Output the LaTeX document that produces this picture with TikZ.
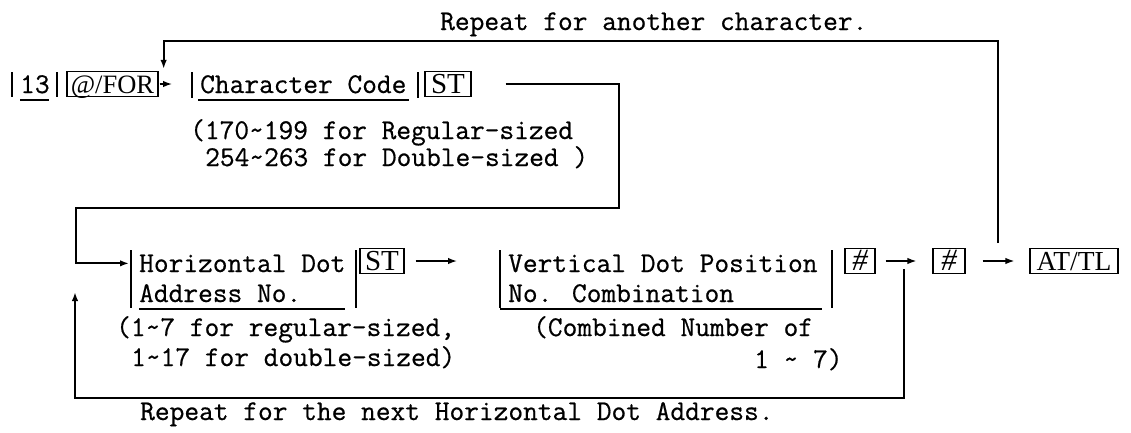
\documentclass[tikz,border=0pt]{standalone}
\usepackage{fontspec}
\newfontfamily\keyfont{Liberation Serif}
\newfontfamily\monof{Latin Modern Mono}[FakeBold=0.6]
\usetikzlibrary{arrows.meta,calc}
\begin{document}
\begin{tikzpicture}[x=1pt,y=-1pt,
  mono/.style={font=\monof\fontsize{28.6}{30}\selectfont, inner sep=0pt, anchor=base west},
  keybox/.style={draw, line width=1.3pt, font=\keyfont\fontsize{29}{30}\selectfont, inner sep=0pt, text height=19pt, text depth=0pt, minimum height=25pt},
  conn/.style={line width=2pt},
  thinarrow/.style={line width=1.4pt},
  bar/.style={line width=1.2pt},
  tip/.style={-{Latex[length=9pt,width=6.5pt]}},
]
\useasboundingbox (0,0) rectangle (1131,432);

% top label
\node[mono] (repA) at (440,30) {Repeat for another character.};

% row 1
\node[mono] (n13) at (20,93) {13};
\node[keybox, minimum width=91pt, font=\keyfont\fontsize{26.5}{28}\selectfont] (for) at (112.5,84) {@/FOR};
\node[mono] (cc) at (200,93) {Character Code};
\node[keybox, minimum width=46pt] (st1) at (448,84) {ST};
\node[mono] (r1a) at (190,139) {(170\textasciitilde199 for Regular-sized};
\node[mono] (r1b) at (205,166) {254\textasciitilde263 for Double-sized )};

\draw[bar] (12,72) -- (12,97);
\draw[bar] (57,72) -- (57,97);
\draw[bar] (192,72) -- (192,98);
\draw[bar] (418,72) -- (418,98);
\draw[bar] (20,100) -- (49,100);
\draw[bar] (198,100) -- (409,100);

% row 2
\node[mono] (hd) at (139,272) {Horizontal Dot};
\node[mono] (an) at (139,302) {Address No.};
\node[keybox, minimum width=44pt] (st2) at (382,261) {ST};
\node[mono] (vd) at (508,272) {Vertical Dot Position};
\node[mono] (nc) at (508,302) {No. Combination};
\node[keybox, minimum width=30pt, font=\keyfont\itshape\fontsize{31}{31}\selectfont] (h1) at (860,261) {\#};
\node[keybox, minimum width=32pt, font=\keyfont\itshape\fontsize{31}{31}\selectfont] (h2) at (949,261) {\#};
\node[keybox, minimum width=88pt, font=\keyfont\fontsize{27.5}{28}\selectfont] (atl) at (1074,261) {AT/TL};
\node[mono] (r2a) at (116,336) {(1\textasciitilde7 for regular-sized,};
\node[mono] (r2b) at (131,366) {1\textasciitilde17 for double-sized)};
\node[mono] (r3a) at (533,336) {(Combined Number of};
\node[mono] (r3b) at (754,368) {1 \textasciitilde{} 7)};
\node[mono] (repB) at (140,420) {Repeat for the next Horizontal Dot Address.};

\draw[bar] (131,250) -- (131,308);
\draw[bar] (356,250) -- (356,308);
\draw[bar] (500,250) -- (500,308);
\draw[bar] (832,250) -- (832,308);
\draw[bar] (139,309) -- (345,309);
\draw[bar] (500,309) -- (822,309);

% short arrows
\draw[thinarrow,tip,shorten <=1pt,shorten >=28pt] (for.east) -- (for.east -| cc.west);
\draw[thinarrow,tip,shorten <=11pt,shorten >=51pt] (st2.east) -- (st2.east -| vd.west);
\draw[thinarrow,tip,shorten <=10pt,shorten >=16pt] (h1.east) -- (h2.west);
\draw[thinarrow,tip,shorten <=17pt,shorten >=15pt] (h2.east) -- (atl.west);

% loops
\coordinate (a3) at ($(h2.east)!0.5!(atl.west)$);
\coordinate (a2) at ($(h1.east)!0.5!(h2.west)$);
\draw[conn,tip] ([yshift=18pt]a3) -- ++(0,-202) -| ([xshift=5pt,yshift=2pt]for.north east);
\draw[conn,tip] ([xshift=34pt]st1.east) -- ++(113,0) -- ++(0,124) -- ++(-543,0) |- ([xshift=-10pt]hd.west);
\draw[conn,tip] ([yshift=-8pt]a2) -- ++(0,129) -- ++(-829,0) -- ++(0,-106);
\end{tikzpicture}
\end{document}
